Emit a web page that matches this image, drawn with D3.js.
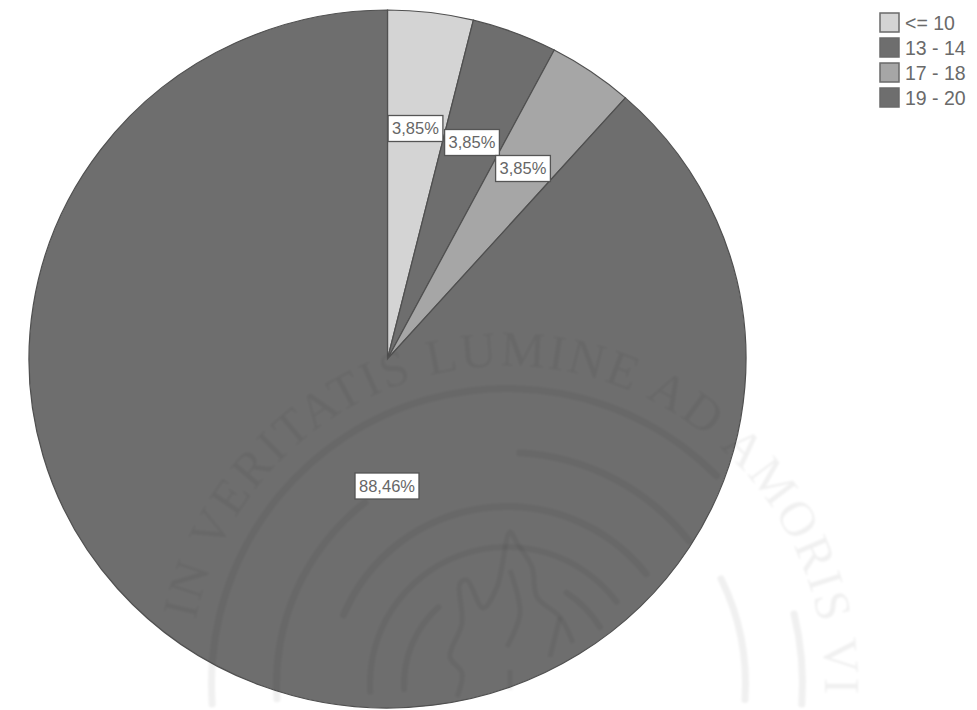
<!DOCTYPE html>
<html>
<head>
<meta charset="utf-8">
<script src="https://cdn.jsdelivr.net/npm/d3@7"></script>
<style>
  html, body { margin: 0; padding: 0; background: #fff; }
  text { font-family: "Liberation Sans", sans-serif; }
</style>
</head>
<body>
<div id="svganchor"></div>
<script>
let width = 977;
let height = 710;

// values
let categories = ["<= 10", "13 - 14", "17 - 18", "19 - 20"];
let percents = [3.85, 3.85, 3.85, 88.46];
let sliceColors = ["#d4d4d4", "#6e6e6e", "#a6a6a6", "#6e6e6e"];

let watermarkText = "IN VERITATIS LUMINE AD AMORIS VI";

let centerX = 387.5, centerY = 359;
let radiusX = 358.5, radiusY = 349;

let svg = d3.select("#svganchor")
    .append("svg")
    .attr("width", width)
    .attr("height", height)
    .style("display", "block");

let defs = svg.append("defs");

let pie = d3.pie().sort(null).value(d => d.value);
let arc = d3.arc().innerRadius(0).outerRadius(radiusY);
let pieData = pie(categories.map((c, i) => ({name: c, value: percents[i]})));

let stretch = "translate(" + centerX + "," + centerY + ") scale(" + (radiusX / radiusY) + ",1)";

svg.append("g")
    .attr("transform", stretch)
    .selectAll("path")
    .data(pieData)
    .enter()
    .append("path")
    .attr("d", arc)
    .attr("fill", (d, i) => sliceColors[i])
    .attr("stroke", "#505050")
    .attr("stroke-width", 1.2);

// University seal showing through the scan, very faint
let sealX = 507, sealY = 684, sealOpacity = 0.06;

defs.append("filter").attr("id", "scanBlur")
    .append("feGaussianBlur").attr("stdDeviation", 0.9);

// the seal stops where the scan was cut off
defs.append("clipPath").attr("id", "sealClip")
    .append("rect").attr("width", 866).attr("height", height);

let seal = svg.append("g")
    .attr("clip-path", "url(#sealClip)")
    .append("g")
    .attr("filter", "url(#scanBlur)")
    .attr("transform", "translate(" + sealX + "," + sealY + ")");

let ringArc = d3.arc().cornerRadius(3);
let rings = [
    {r: 292, a0: -1.65, a1: 0.8, w: 7},
    {r: 292, a0: 1.32, a1: 1.65, w: 7},
    {r: 227, a0: -1.65, a1: -0.65, w: 7},
    {r: 228, a0: 0.04, a1: 0.92, w: 7},
    {r: 235, a0: 1.1, a1: 1.65, w: 7},
    {r: 174, a0: -1.19, a1: 0.92, w: 7},
    {r: 134, a0: -1.65, a1: 0.95, w: 6},
    {r: 100, a0: -1.65, a1: -0.7, w: 6},
    {r: 106, a0: 0.55, a1: 1.05, w: 6}
];

seal.selectAll("path.ring")
    .data(rings)
    .enter()
    .append("path")
    .attr("class", "ring")
    .attr("d", d => ringArc({innerRadius: d.r, outerRadius: d.r + d.w, startAngle: d.a0, endAngle: d.a1}))
    .attr("fill", "#000")
    .attr("fill-opacity", sealOpacity);

// flame in the middle of the seal, traced strokes relative to the seal centre
let flameStrokes = [
    [[-50, 13], [-45, -11], [-57, -27], [-45, -61], [-47, -101], [-40, -104], [-24, -76], [-10, -97], [3, -152], [10, -141], [25, -117], [30, -87], [53, -67], [66, -41]],
    [[3, -114], [13, -71], [0, -37]],
    [[53, -67], [43, -27]],
    [[3, -14], [3, 6]]
];

let flameLine = d3.line().curve(d3.curveCatmullRom);

seal.selectAll("path.flame")
    .data(flameStrokes)
    .enter()
    .append("path")
    .attr("class", "flame")
    .attr("d", flameLine)
    .attr("fill", "none")
    .attr("stroke", "#000")
    .attr("stroke-opacity", sealOpacity)
    .attr("stroke-width", 5);

let sealRadius = 318;
defs.append("path")
    .attr("id", "sealPath")
    .attr("d", "M " + (-sealRadius * Math.sin(1.37)) + " " + (-sealRadius * Math.cos(1.37)) +
        " A " + sealRadius + " " + sealRadius + " 0 0 1 " + sealRadius + " 0 L " + sealRadius + " 100");

seal.append("text")
    .style("font-family", "'Liberation Serif', serif")
    .style("font-size", "50px")
    .attr("fill", "#000")
    .attr("fill-opacity", sealOpacity)
    .attr("letter-spacing", 2.4)
    .append("textPath")
    .attr("href", "#sealPath")
    .text(watermarkText);

// Percent labels, placed at the chart's own label spots
let labelSpots = [[415.5, 128.5], [472, 142.5], [523, 168.5], [387, 486]];

let labels = svg.selectAll(".pct")
    .data(percents)
    .enter()
    .append("g")
    .attr("class", "pct")
    .attr("transform", (d, i) => "translate(" + labelSpots[i][0] + "," + labelSpots[i][1] + ")");

let labelBoxes = labels.append("rect")
    .attr("fill", "#fff")
    .attr("stroke", "#555")
    .attr("stroke-width", 1.3);

let labelTexts = labels.append("text")
    .attr("text-anchor", "middle")
    .attr("dy", "0.36em")
    .attr("fill", "#666")
    .style("font-size", "16.5px")
    .text(d => d.toFixed(2).replace(".", ",") + "%");

// box follows the width of its text
labelBoxes.each(function(d, i) {
    let w = labelTexts.nodes()[i].getComputedTextLength() + 8;
    d3.select(this)
        .attr("x", -w / 2).attr("y", -13)
        .attr("width", w).attr("height", 26);
});

// Legend
let legendY = d3.scaleBand().domain(categories).range([13, 113]);

let legend = svg.selectAll(".legend")
    .data(categories)
    .enter()
    .append("g")
    .attr("class", "legend")
    .attr("transform", d => "translate(880," + legendY(d) + ")");

legend.append("rect")
    .attr("width", 19).attr("height", 19)
    .attr("fill", (d, i) => sliceColors[i])
    .attr("stroke", "#6a6a6a")
    .attr("stroke-width", 1.5);

legend.append("text")
    .attr("x", 25)
    .attr("y", 10)
    .attr("dy", "0.36em")
    .attr("fill", "#6a6a6a")
    .style("font-size", "19.5px")
    .text(d => d);
</script>
</body>
</html>
